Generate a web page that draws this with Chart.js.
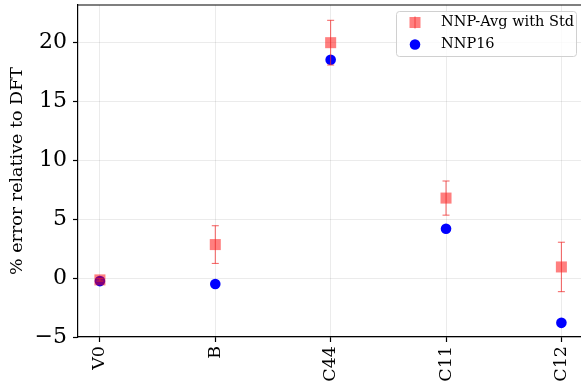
<!DOCTYPE html>
<html>
<head>
<meta charset="utf-8">
<script src="https://cdn.jsdelivr.net/npm/chart.js@4/dist/chart.umd.min.js"></script>
<style>
  html, body { margin: 0; padding: 0; background: #fff; overflow: hidden; }
  #wrap { width: 581px; height: 390px; position: relative; }
</style>
</head>
<body>
<div id="wrap"><canvas id="err-chart"></canvas></div>
<script>
// Elastic properties and their % error relative to DFT
const properties = ['V0', 'B', 'C44', 'C11', 'C12'];
const avgError = [-0.15, 2.85, 20.0, 6.8, 0.95];
const stdError = [0.1, 1.6, 1.9, 1.45, 2.1];
const nnp16Error = [-0.25, -0.5, 18.55, 4.2, -3.8];
const yTicks = [-5, 0, 5, 10, 15, 20];

const serif = "'DejaVu Serif', 'Liberation Serif', serif";
const avgColor = 'rgba(255, 0, 0, 0.5)';
const barColor = 'rgba(240, 40, 40, 0.75)';

// Error bars for the averaged series, drawn through the library's scales
const errorBars = {
    id: 'errorBars',
    afterDatasetDraw(chart, args) {
        if (args.index !== 0) return;
        const xs = chart.scales.x, ys = chart.scales.y;
        const ctx = chart.ctx;
        ctx.save();
        ctx.strokeStyle = barColor;
        ctx.lineWidth = 1;
        avgError.forEach(function(v, i) {
            const x = xs.getPixelForValue(i);
            const top = ys.getPixelForValue(v + stdError[i]);
            const bot = ys.getPixelForValue(v - stdError[i]);
            ctx.beginPath();
            ctx.moveTo(x, top); ctx.lineTo(x, bot);
            ctx.moveTo(x - 3.5, top); ctx.lineTo(x + 3.5, top);
            ctx.moveTo(x - 3.5, bot); ctx.lineTo(x + 3.5, bot);
            ctx.stroke();
        });
        ctx.restore();
    }
};

// Top spine and the boxed legend in the upper right
const frameAndLegend = {
    id: 'frameAndLegend',
    afterDraw(chart) {
        const ctx = chart.ctx;
        const area = chart.chartArea;
        ctx.save();
        ctx.strokeStyle = '#000';
        ctx.lineWidth = 1.2;
        ctx.beginPath();
        ctx.moveTo(area.left, area.top);
        ctx.lineTo(area.right + 2, area.top);
        ctx.stroke();

        // legend box
        const bx = 396.5, by = 11.5, bw = 180, bh = 45;
        ctx.fillStyle = 'rgba(255,255,255,0.8)';
        ctx.strokeStyle = '#d0d0d0';
        ctx.lineWidth = 1;
        ctx.beginPath();
        ctx.roundRect(bx, by, bw, bh, 3);
        ctx.fill();
        ctx.stroke();

        // red square entry
        const mx = 415, y1 = 22.5, y2 = 44.5;
        ctx.fillStyle = avgColor;
        ctx.fillRect(mx - 5.5, y1 - 5.5, 11, 11);
        ctx.strokeStyle = barColor;
        ctx.beginPath();
        ctx.moveTo(mx, y1 - 6); ctx.lineTo(mx, y1 + 6);
        ctx.stroke();

        // blue circle entry
        ctx.fillStyle = '#0000ff';
        ctx.beginPath();
        ctx.arc(mx, y2, 5.3, 0, Math.PI * 2);
        ctx.fill();

        ctx.fillStyle = '#000';
        ctx.font = '14.5px ' + serif;
        ctx.textBaseline = 'middle';
        ctx.textAlign = 'left';
        ctx.fillText('NNP-Avg with Std', 441, y1);
        ctx.fillText('NNP16', 441, y2);
        ctx.restore();
    }
};

const ctx = document.getElementById('err-chart').getContext('2d');
const errChart = new Chart(ctx, {
    type: 'scatter',
    data: {
        datasets: [
            {
                label: 'NNP-Avg with Std',
                data: avgError.map(function(v, i) { return { x: i, y: v }; }),
                pointStyle: 'rect',
                pointRadius: 7.8,
                pointHoverRadius: 7.8,
                backgroundColor: avgColor,
                borderWidth: 0
            },
            {
                label: 'NNP16',
                data: nnp16Error.map(function(v, i) { return { x: i, y: v }; }),
                pointStyle: 'circle',
                pointRadius: 5.3,
                pointHoverRadius: 5.3,
                backgroundColor: '#0000ff',
                borderWidth: 0
            }
        ]
    },
    options: {
        responsive: true,
        maintainAspectRatio: false,
        animation: false,
        layout: { autoPadding: false, padding: { top: 5, right: 0, left: 0, bottom: 0 } },
        plugins: {
            legend: { display: false },
            tooltip: { enabled: false }
        },
        scales: {
            x: {
                type: 'linear',
                min: -0.19,
                max: 4.17,
                afterBuildTicks: function(scale) {
                    scale.ticks = properties.map(function(_, i) { return { value: i }; });
                },
                afterFit: function(scale) {
                    scale.height = 53;
                    scale.paddingLeft = 0;
                    scale.paddingRight = 0;
                },
                ticks: {
                    autoSkip: false,
                    minRotation: 90,
                    maxRotation: 90,
                    padding: 4,
                    color: '#000',
                    font: { family: serif, size: 17.5 },
                    callback: function(v) { return properties[v]; }
                },
                grid: {
                    color: 'rgba(0,0,0,0.1)',
                    lineWidth: 0.8,
                    tickColor: '#000',
                    tickWidth: 1.2,
                    tickLength: 5
                },
                border: { color: '#000', width: 1.2 }
            },
            y: {
                min: -5,
                max: 23.2,
                afterBuildTicks: function(scale) {
                    scale.ticks = yTicks.map(function(v) { return { value: v }; });
                },
                afterFit: function(scale) {
                    scale.width = 78;
                    scale.paddingTop = 0;
                    scale.paddingBottom = 0;
                },
                ticks: {
                    padding: 6,
                    color: '#000',
                    font: { family: serif, size: 22 },
                    callback: function(v) { return String(v).replace('-', '\u2212'); }
                },
                grid: {
                    color: 'rgba(0,0,0,0.1)',
                    lineWidth: 0.8,
                    tickColor: '#000',
                    tickWidth: 1.2,
                    tickLength: 5
                },
                border: { color: '#000', width: 1.2 },
                title: {
                    display: true,
                    text: '% error relative to DFT',
                    color: '#000',
                    font: { family: serif, size: 17.5 },
                    padding: { top: 7, bottom: 0 }
                }
            }
        }
    },
    plugins: [errorBars, frameAndLegend]
});
</script>
</body>
</html>
